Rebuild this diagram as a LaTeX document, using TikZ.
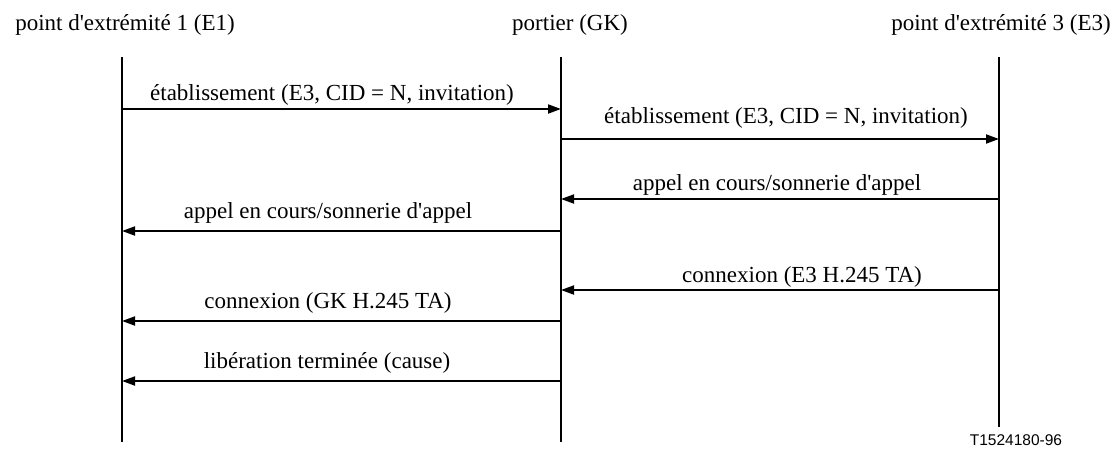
\documentclass[tikz,border=0pt]{standalone}
\usepackage{fontspec}
\setmainfont{Liberation Serif}[Ligatures=TeXOff]
\newfontfamily\labsans{Liberation Sans}
\usetikzlibrary{arrows.meta}
\begin{document}
\begin{tikzpicture}[x=1pt,y=-1pt,
  lifeline/.style={line width=2.2pt},
  msg/.style={line width=1.9pt,-{Triangle[length=13pt,width=9pt]}},
  txt/.style={anchor=base,inner sep=0pt,font=\fontsize{23}{27}\selectfont},
  tag/.style={anchor=base,inner sep=0pt,font=\labsans\fontsize{15.5}{18}\selectfont}]
\useasboundingbox (0,0) rectangle (1118,448);
% titles
\node[txt] (t1) at (125,30) {point d'extrémité 1 (E1)};
\node[txt] (t2) at (570,30) {portier (GK)};
\node[txt] (t3) at (1001,30) {point d'extrémité 3 (E3)};
% lifelines
\coordinate (e1top) at (122,57);
\coordinate (e1bot) at (122,442);
\coordinate (gktop) at (561,57);
\coordinate (gkbot) at (561,442);
\coordinate (e3top) at (999,57);
\coordinate (e3bot) at (999,427);
\draw[lifeline] (e1top) -- (e1bot);
\draw[lifeline] (gktop) -- (gkbot);
\draw[lifeline] (e3top) -- (e3bot);
% message anchor points
\foreach \i/\y in {1/109,2/139,3/199,4/231,5/290,6/321,7/381}{
  \coordinate (a\i) at (122,\y);
  \coordinate (b\i) at (561,\y);
  \coordinate (c\i) at (999,\y);
}
% messages
\draw[msg] (a1) -- (b1);
\node[txt] (l1) at (332,100) {établissement (E3, CID = N, invitation)};
\draw[msg] (b2) -- (c2);
\node[txt] (l2) at (786,123) {établissement (E3, CID = N, invitation)};
\draw[msg] (c3) -- (b3);
\node[txt] (l3) at (777,190) {appel en cours/sonnerie d'appel};
\draw[msg] (b4) -- (a4);
\node[txt] (l4) at (328,218) {appel en cours/sonnerie d'appel};
\draw[msg] (c5) -- (b5);
\node[txt] (l5) at (802,282) {connexion (E3 H.245 TA)};
\draw[msg] (b6) -- (a6);
\node[txt] (l6) at (328,308) {connexion (GK H.245 TA)};
\draw[msg] (b7) -- (a7);
\node[txt] (l7) at (327,368) {libération terminée (cause)};
% figure tag
\node[tag] (fig) at (1016,445) {T1524180-96};
\end{tikzpicture}
\end{document}
